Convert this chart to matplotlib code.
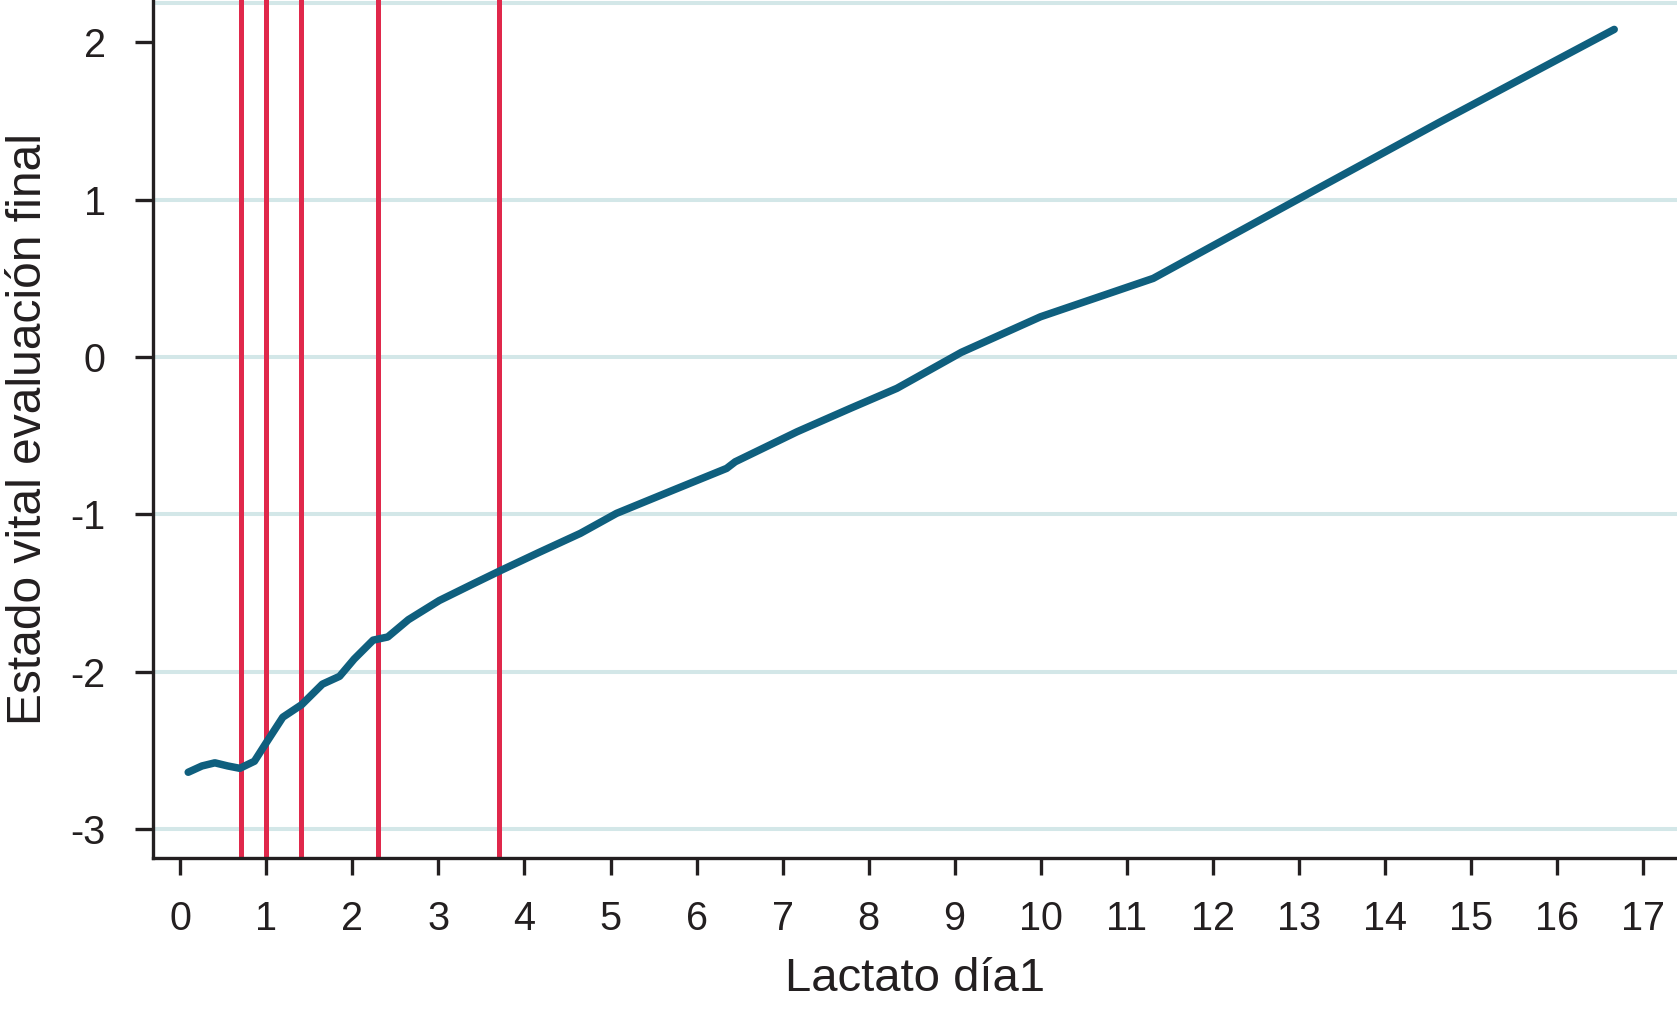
import matplotlib
matplotlib.use("Agg")
import matplotlib.pyplot as plt

plt.rcParams['font.family'] = ['Liberation Sans', 'DejaVu Sans']

# Smoothed curve
lactato = [0.09, 0.25, 0.40, 0.55, 0.69, 0.86, 1.00, 1.19, 1.41, 1.65, 1.85, 2.02,
           2.24, 2.41, 2.65, 3.01, 3.40, 3.72, 4.17, 4.65, 5.07, 5.73, 6.35, 6.45,
           7.17, 7.79, 8.33, 9.08, 10.0, 11.31, 12.94, 14.65, 16.67]
estado = [-2.64, -2.60, -2.58, -2.60, -2.615, -2.57, -2.45, -2.29, -2.21, -2.08,
          -2.03, -1.92, -1.80, -1.78, -1.67, -1.548, -1.443, -1.358, -1.242, -1.121,
          -0.994, -0.846, -0.708, -0.666, -0.475, -0.326, -0.199, 0.03, 0.256, 0.50,
          0.987, 1.496, 2.083]

# Vertical reference lines
cortes = [0.7, 1.0, 1.4, 2.3, 3.7]

x_ticks = list(range(0, 18))
y_ticks = [-3, -2, -1, 0, 1, 2]
grid_levels = [-3, -2, -1, 0, 1, 2.25]

xlabel = "Lactato día1"
ylabel = "Estado vital evaluación final"

dark = "#231F20"
fig = plt.figure(figsize=(16.77, 10.18), dpi=100)
ax = fig.add_axes([0.0912, 0.1572, 0.9088, 0.8428])

for g in grid_levels:
    ax.axhline(g, color="#D3E7E8", lw=2.9, zorder=1)
for c in cortes:
    ax.axvline(c, color="#E0284B", lw=3.6, zorder=2)
ax.plot(lactato, estado, color="#0F5F7E", lw=5.4, solid_capstyle="round",
        solid_joinstyle="round", zorder=3)

ax.set_xlim(-0.32, 17.4)
ax.set_ylim(-3.185, 2.27)
ax.set_xticks(x_ticks)
ax.set_xticklabels([str(t) for t in x_ticks])
ax.set_yticks(y_ticks)
ax.set_yticklabels([str(t) for t in y_ticks])

for s in ["top", "right"]:
    ax.spines[s].set_visible(False)
for s in ["left", "bottom"]:
    ax.spines[s].set_linewidth(2.4)
    ax.spines[s].set_color(dark)

ax.tick_params(axis="x", length=12, width=2.4, pad=18, labelsize=28.5, colors=dark)
ax.tick_params(axis="y", length=13, width=2.4, pad=21, labelsize=28.5, colors=dark)

ax.set_xlabel(xlabel, fontsize=34, color=dark, labelpad=14)
ax.set_ylabel(ylabel, fontsize=34.5, color=dark, labelpad=14)

fig.savefig("out.png", dpi=100)
